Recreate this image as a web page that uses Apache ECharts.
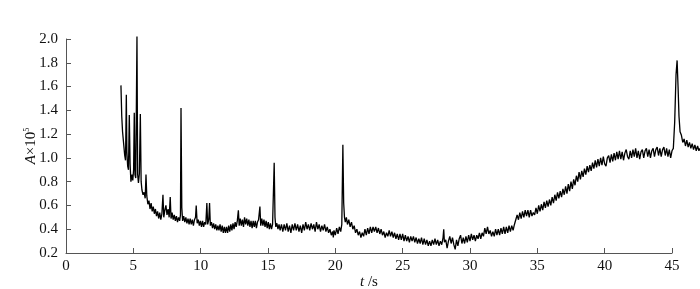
<!DOCTYPE html>
<html>
<head>
<meta charset="utf-8">
<script src="https://cdn.jsdelivr.net/npm/echarts@6/dist/echarts.min.js"></script>
<style>
html,body{margin:0;padding:0;background:#fff;}
#c{width:700px;height:289px;}
</style>
</head>
<body>
<div id="c"></div>
<script>
// axis ranges (time in s, A x 10^5)
const xTicks = [0, 5, 10, 15, 20, 25, 30, 35, 40, 45];
const yTicks = [0.2, 0.4, 0.6, 0.8, 1.0, 1.2, 1.4, 1.6, 1.8, 2.0];
const tEnd = 47.08; // the recorded trace runs past the last tick, to the right edge

// measured trace: [t (s), A (x10^5)]
const trace = [
[4.08,1.61],[4.14,1.35],[4.20,1.22],[4.28,1.12],[4.36,1.02],[4.42,0.98],[4.48,1.53],[4.52,1.05],[4.58,0.93],[4.64,0.90],
[4.70,1.36],[4.76,0.95],[4.82,0.80],[4.90,0.86],[4.96,0.81],[5.02,0.90],[5.07,1.38],[5.12,0.86],[5.18,0.83],[5.27,2.02],
[5.32,0.86],[5.38,0.79],[5.45,0.87],[5.52,1.37],[5.58,0.80],[5.64,0.73],[5.72,0.69],[5.80,0.71],[5.88,0.66],[5.94,0.86],
[6.00,0.68],[6.08,0.61],[6.16,0.64],[6.24,0.57],[6.32,0.62],[6.40,0.55],[6.48,0.59],[6.56,0.53],[6.64,0.57],[6.72,0.51],
[6.80,0.55],[6.88,0.49],[6.96,0.54],[7.04,0.48],[7.12,0.53],[7.20,0.69],[7.26,0.50],[7.34,0.56],[7.42,0.60],[7.50,0.52],
[7.58,0.57],[7.66,0.50],[7.74,0.67],[7.80,0.49],[7.88,0.54],[7.96,0.48],[8.04,0.52],[8.12,0.47],[8.20,0.51],[8.28,0.46],
[8.36,0.50],[8.44,0.47],[8.50,0.52],[8.54,1.42],[8.60,0.58],[8.66,0.47],[8.74,0.51],[8.82,0.46],[8.90,0.50],[8.98,0.45],
[9.06,0.49],[9.14,0.44],[9.22,0.49],[9.30,0.44],[9.38,0.48],[9.46,0.43],[9.54,0.48],[9.62,0.50],[9.67,0.60],[9.74,0.45],
[9.82,0.48],[9.90,0.43],[9.98,0.47],[10.06,0.42],[10.14,0.47],[10.22,0.42],[10.30,0.46],[10.38,0.44],[10.46,0.62],[10.52,0.44],
[10.60,0.48],[10.66,0.62],[10.72,0.43],[10.80,0.46],[10.88,0.41],[10.96,0.45],[11.04,0.40],[11.12,0.44],[11.20,0.39],[11.28,0.43],
[11.36,0.39],[11.44,0.44],[11.52,0.38],[11.60,0.43],[11.68,0.37],[11.76,0.42],[11.84,0.37],[11.92,0.42],[12.00,0.37],[12.08,0.43],
[12.16,0.38],[12.24,0.44],[12.32,0.39],[12.40,0.45],[12.48,0.40],[12.56,0.46],[12.64,0.42],[12.72,0.47],[12.80,0.56],[12.86,0.43],
[12.94,0.49],[13.02,0.43],[13.10,0.48],[13.18,0.42],[13.26,0.50],[13.34,0.44],[13.42,0.49],[13.50,0.43],[13.58,0.48],[13.66,0.42],
[13.74,0.47],[13.82,0.41],[13.90,0.47],[13.98,0.42],[14.06,0.47],[14.14,0.41],[14.22,0.46],[14.30,0.48],[14.40,0.59],[14.46,0.43],
[14.54,0.49],[14.62,0.43],[14.70,0.48],[14.78,0.42],[14.86,0.47],[14.94,0.41],[15.02,0.46],[15.10,0.40],[15.18,0.45],[15.26,0.40],
[15.34,0.44],[15.40,0.45],[15.46,0.96],[15.52,0.50],[15.58,0.42],[15.66,0.45],[15.74,0.40],[15.82,0.44],[15.90,0.39],
[16.0,0.44],[16.1,0.38],[16.2,0.44],[16.3,0.39],[16.4,0.45],[16.5,0.38],[16.6,0.43],[16.7,0.37],[16.8,0.44],[16.9,0.39],
[17.0,0.45],[17.1,0.39],[17.2,0.44],[17.3,0.38],[17.4,0.43],[17.5,0.37],[17.6,0.44],[17.7,0.39],[17.8,0.46],[17.9,0.40],
[18.0,0.44],[18.1,0.39],[18.2,0.45],[18.3,0.40],[18.4,0.44],[18.5,0.38],[18.6,0.46],[18.7,0.40],[18.8,0.44],[18.9,0.38],
[19.0,0.43],[19.1,0.39],[19.2,0.44],[19.3,0.38],[19.4,0.42],[19.5,0.37],[19.6,0.40],[19.7,0.35],[19.8,0.38],[19.85,0.33],
[19.9,0.39],[20.0,0.35],[20.1,0.41],[20.2,0.36],[20.3,0.42],[20.4,0.38],[20.48,0.44],[20.56,1.11],[20.62,0.62],[20.68,0.50],
[20.74,0.46],[20.82,0.50],[20.9,0.44],[21.0,0.48],[21.1,0.42],[21.2,0.46],[21.3,0.40],[21.4,0.43],[21.5,0.37],[21.6,0.40],
[21.7,0.35],[21.8,0.38],[21.9,0.33],[22.0,0.37],[22.1,0.34],[22.2,0.40],[22.3,0.35],[22.4,0.41],[22.5,0.36],[22.6,0.42],
[22.7,0.37],[22.8,0.42],[22.9,0.38],[23.0,0.42],[23.1,0.37],[23.2,0.41],[23.3,0.36],[23.4,0.40],[23.5,0.35],[23.6,0.38],
[23.7,0.33],[23.8,0.37],[23.9,0.34],[24.0,0.39],[24.1,0.34],[24.2,0.38],[24.3,0.33],[24.4,0.37],[24.5,0.32],[24.6,0.36],
[24.7,0.31],[24.8,0.36],[24.9,0.31],[25.0,0.36],[25.1,0.30],[25.2,0.35],[25.3,0.30],[25.4,0.34],[25.5,0.29],[25.6,0.34],
[25.7,0.30],[25.8,0.34],[25.9,0.29],[26.0,0.33],[26.1,0.28],[26.2,0.32],[26.3,0.28],[26.4,0.33],[26.5,0.27],[26.6,0.32],
[26.7,0.27],[26.8,0.31],[26.9,0.26],[27.0,0.30],[27.1,0.26],[27.2,0.31],[27.3,0.27],[27.4,0.32],[27.5,0.27],[27.6,0.31],
[27.7,0.26],[27.8,0.30],[27.9,0.27],[28.0,0.33],[28.05,0.40],[28.1,0.29],[28.2,0.31],[28.3,0.24],[28.4,0.30],[28.5,0.34],
[28.6,0.28],[28.7,0.33],[28.8,0.27],[28.9,0.23],[29.0,0.31],[29.1,0.26],[29.2,0.32],[29.3,0.35],[29.4,0.28],[29.5,0.33],
[29.6,0.28],[29.7,0.34],[29.8,0.29],[29.9,0.35],[30.0,0.30],[30.1,0.36],[30.2,0.31],[30.3,0.35],[30.4,0.30],[30.5,0.35],
[30.6,0.32],[30.7,0.37],[30.8,0.32],[30.9,0.37],[31.0,0.34],[31.1,0.41],[31.2,0.36],[31.3,0.42],[31.4,0.36],[31.5,0.39],
[31.6,0.34],[31.7,0.38],[31.8,0.34],[31.9,0.40],[32.0,0.35],[32.1,0.40],[32.2,0.35],[32.3,0.41],[32.4,0.36],[32.5,0.42],
[32.6,0.36],[32.7,0.42],[32.8,0.37],[32.9,0.43],[33.0,0.38],[33.1,0.43],[33.2,0.39],[33.3,0.44],[33.4,0.45],[33.5,0.52],
[33.6,0.48],[33.7,0.54],[33.8,0.49],[33.9,0.55],[34.0,0.50],[34.1,0.56],[34.2,0.51],[34.3,0.56],[34.4,0.50],[34.5,0.56],
[34.6,0.51],[34.7,0.54],[34.8,0.52],[34.9,0.58],[35.0,0.53],[35.1,0.60],[35.2,0.55],[35.3,0.61],[35.4,0.56],[35.5,0.63],
[35.6,0.58],[35.7,0.64],[35.8,0.59],[35.9,0.65],[36.0,0.60],[36.1,0.67],[36.2,0.62],[36.3,0.69],[36.4,0.64],[36.5,0.71],
[36.6,0.66],[36.7,0.72],[36.8,0.67],[36.9,0.74],[37.0,0.69],[37.1,0.76],[37.2,0.70],[37.3,0.78],[37.4,0.72],[37.5,0.80],
[37.6,0.74],[37.7,0.82],[37.8,0.77],[37.9,0.85],[38.0,0.80],[38.1,0.88],[38.2,0.82],[38.3,0.89],[38.4,0.84],[38.5,0.91],
[38.6,0.86],[38.7,0.93],[38.8,0.88],[38.9,0.94],[39.0,0.89],[39.1,0.96],[39.2,0.91],[39.3,0.98],[39.4,0.92],[39.5,0.99],
[39.6,0.93],[39.7,1.00],[39.8,0.94],[39.9,1.01],[40.0,0.95],[40.1,0.93],[40.2,1.00],[40.3,1.02],[40.4,0.96],[40.5,1.03],
[40.6,0.97],[40.7,1.04],[40.8,0.98],[40.9,1.05],[41.0,0.99],[41.1,1.06],[41.2,0.99],[41.3,1.05],[41.4,0.98],[41.5,1.04],
[41.6,1.07],[41.7,1.01],[41.8,0.99],[41.9,1.06],[42.0,1.00],[42.1,1.07],[42.2,1.01],[42.3,1.08],[42.4,1.00],[42.5,1.06],
[42.6,0.99],[42.7,1.05],[42.8,1.07],[42.9,1.00],[43.0,1.06],[43.1,1.08],[43.2,1.01],[43.3,1.07],[43.4,1.00],[43.5,1.06],
[43.6,1.08],[43.7,1.01],[43.8,1.07],[43.9,1.09],[44.0,1.02],[44.1,1.08],[44.2,1.01],[44.3,1.07],[44.4,1.09],[44.5,1.02],
[44.6,1.08],[44.7,1.01],[44.8,1.07],[44.9,1.00],[45.0,1.06],[45.1,1.08],[45.2,1.30],[45.3,1.70],[45.38,1.82],[45.45,1.60],
[45.52,1.35],[45.6,1.22],[45.7,1.19],[45.8,1.13],[45.9,1.16],[46.0,1.10],[46.1,1.15],[46.2,1.09],[46.3,1.13],[46.4,1.08],
[46.5,1.12],[46.6,1.07],[46.7,1.11],[46.8,1.06],[46.9,1.10],[47.0,1.06],[47.08,1.08]
];

const chart = echarts.init(document.getElementById('c'), null, {renderer: 'canvas'});
const font = 'Liberation Serif';
const txt = '#111';
const axisCol = '#555';
chart.setOption({
  animation: false,
  backgroundColor: '#fff',
  grid: [
    {left: 66, right: 28, top: 39, bottom: 36, containLabel: false, outerBoundsMode: 'none'},
    {left: 66, right: 0, top: 39, bottom: 36, containLabel: false, outerBoundsMode: 'none'}
  ],
  xAxis: [{
    type: 'value', gridIndex: 0,
    min: xTicks[0], max: xTicks[xTicks.length - 1], interval: 5,
    name: '{i|t} /s',
    nameLocation: 'middle', nameGap: 22, nameMoveOverlap: false,
    nameTextStyle: {fontFamily: font, fontSize: 15, color: txt,
      rich: {i: {fontFamily: font, fontStyle: 'italic', fontSize: 15, color: txt}}},
    axisLine: {lineStyle: {color: axisCol, width: 1}},
    axisTick: {inside: true, length: 5, lineStyle: {color: axisCol}},
    axisLabel: {fontFamily: font, fontSize: 15, color: txt, margin: 6},
    splitLine: {show: false}
  }, {
    type: 'value', gridIndex: 1, show: false,
    min: xTicks[0], max: tEnd
  }],
  yAxis: [{
    type: 'value', gridIndex: 0,
    min: yTicks[0], max: yTicks[yTicks.length - 1], interval: 0.2,
    name: '{i|A}×10{s|5}',
    nameLocation: 'middle', nameGap: 27, nameRotate: 90, nameMoveOverlap: false,
    nameTextStyle: {fontFamily: font, fontSize: 15, color: txt,
      rich: {
        i: {fontFamily: font, fontStyle: 'italic', fontSize: 15, color: txt},
        s: {fontFamily: font, fontSize: 8, color: txt, verticalAlign: 'top', padding: [0,0,8,0]}
      }},
    axisLine: {show: true, lineStyle: {color: axisCol, width: 1}},
    axisTick: {show: true, inside: true, length: 5, lineStyle: {color: axisCol}},
    axisLabel: {fontFamily: font, fontSize: 15, color: txt, margin: 8,
      formatter: v => v.toFixed(1)},
    splitLine: {show: false}
  }, {
    type: 'value', gridIndex: 1, show: false,
    min: yTicks[0], max: yTicks[yTicks.length - 1]
  }],
  series: [{
    type: 'line',
    xAxisIndex: 1, yAxisIndex: 1,
    data: trace,
    showSymbol: false,
    symbol: 'none',
    clip: false,
    sampling: null,
    lineStyle: {color: '#000', width: 1.3},
    z: 3
  }]
});
</script>
</body>
</html>
